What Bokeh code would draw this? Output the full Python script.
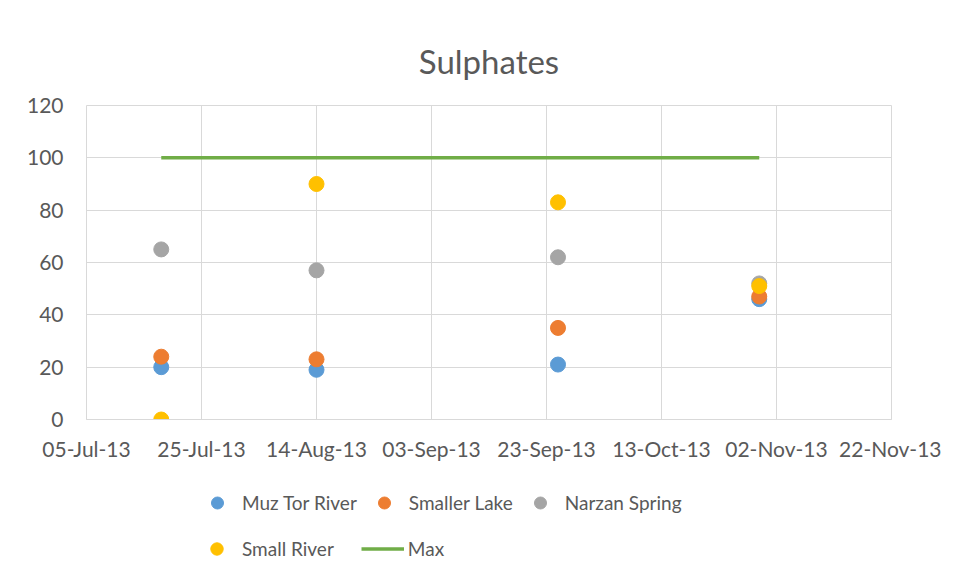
from datetime import datetime
from bokeh.plotting import figure
from bokeh.layouts import column
from bokeh.models import (DatetimeTickFormatter, FixedTicker, Legend, LegendItem, Range1d)
from bokeh.embed import file_html
from bokeh.resources import INLINE

# ---- data ----
dates = ["2013-07-18", "2013-08-14", "2013-09-25", "2013-10-30"]
muz_tor_river = [20, 19, 21, 46]
smaller_lake = [24, 23, 35, 47]
narzan_spring = [65, 57, 62, 52]
small_river = [0, 90, 83, 51]
max_dates = ["2013-07-18", "2013-10-30"]
max_values = [100, 100]
x_tick_labels = ["2013-07-05", "2013-07-25", "2013-08-14", "2013-09-03",
                 "2013-09-23", "2013-10-13", "2013-11-02", "2013-11-22"]
y_ticks = [0, 20, 40, 60, 80, 100, 120]
series_names = ["Muz Tor River", "Smaller Lake", "Narzan Spring", "Small River", "Max"]
colors = ["#5b9bd5", "#ed7d31", "#a5a5a5", "#ffc000", "#70ad47"]

def to_dt(lst):
    return [datetime.strptime(d, "%Y-%m-%d") for d in lst]

def ms(d):
    return (d - datetime(1970, 1, 1)).total_seconds() * 1000.0

xd = to_dt(dates)
xmax = to_dt(max_dates)
xt = [ms(d) for d in to_dt(x_tick_labels)]
series = [muz_tor_river, smaller_lake, narzan_spring, small_river]

FONT = "Lato"
GREY = "#595959"
GRID = "#d9d9d9"

p = figure(width=941, height=464, output_backend="svg", toolbar_location=None,
           x_axis_type="datetime",
           x_range=Range1d(xt[0], xt[-1]), y_range=Range1d(0, 120),
           min_border_left=86, min_border_right=50, min_border_top=105,
           min_border_bottom=45)

p.title.text = "Sulphates"
p.title.align = "center"
p.title.text_font = FONT
p.title.text_font_size = "33px"
p.title.text_font_style = "normal"
p.title.text_color = GREY
p.title.standoff = 50

p.outline_line_color = GRID
p.background_fill_color = "white"
p.border_fill_color = "white"

for ax in (p.xaxis[0], p.yaxis[0]):
    ax.major_label_text_font = FONT
    ax.major_label_text_font_size = "21px"
    ax.major_label_text_color = GREY
    ax.major_tick_line_color = None
    ax.minor_tick_line_color = None
    ax.major_tick_out = 0
    ax.major_tick_in = 0
    ax.minor_tick_out = 0
    ax.axis_line_color = GRID
p.yaxis[0].axis_line_color = None
p.xaxis.ticker = FixedTicker(ticks=xt)
p.xaxis.formatter = DatetimeTickFormatter(days="%d-%b-%y", months="%d-%b-%y",
                                          years="%d-%b-%y")
p.xaxis.major_label_standoff = 16
p.yaxis.ticker = FixedTicker(ticks=y_ticks)
p.yaxis.major_label_standoff = 23
p.xgrid.grid_line_color = GRID
p.ygrid.grid_line_color = GRID

p.line(xmax, max_values, line_color=colors[4], line_width=3.5)
for vals, c in zip(series, colors[:4]):
    p.scatter(xd, vals, size=15, color=c)

# ---- legend strip below the chart (same series, outside its view) ----
lp = figure(width=941, height=100, output_backend="svg", toolbar_location=None,
            x_range=Range1d(0, 1), y_range=Range1d(0, 1),
            x_axis_location=None, y_axis_location=None,
            min_border=0, outline_line_color=None, border_fill_color="white")
lp.grid.visible = False
lr = [lp.scatter(xd, vals, size=15, color=c) for vals, c in zip(series, colors[:4])]
lr.append(lp.line(xmax, max_values, line_color=colors[4], line_width=3.5))

def style_legend(lg):
    lg.label_text_font = FONT
    lg.label_text_font_size = "19px"
    lg.label_text_color = GREY
    lg.border_line_color = None
    lg.background_fill_alpha = 0
    lg.padding = 0
    lg.margin = 0
    lg.label_height = 31
    lg.glyph_height = 31

leg1 = Legend(items=[LegendItem(label=series_names[i], renderers=[lr[i]]) for i in range(3)],
              location=(116, 46), orientation="horizontal")
style_legend(leg1)
leg1.glyph_width = 30
leg1.label_standoff = 10
leg1.spacing = 12

leg2 = Legend(items=[LegendItem(label=series_names[i], renderers=[lr[i]]) for i in (3, 4)],
              location=(109, 0), orientation="horizontal")
style_legend(leg2)
leg2.glyph_width = 43
leg2.label_standoff = 4
leg2.spacing = 27

lp.add_layout(leg1, "center")
lp.add_layout(leg2, "center")

layout = column(p, lp, spacing=0)
open("out.html", "w").write(file_html(layout, INLINE))
